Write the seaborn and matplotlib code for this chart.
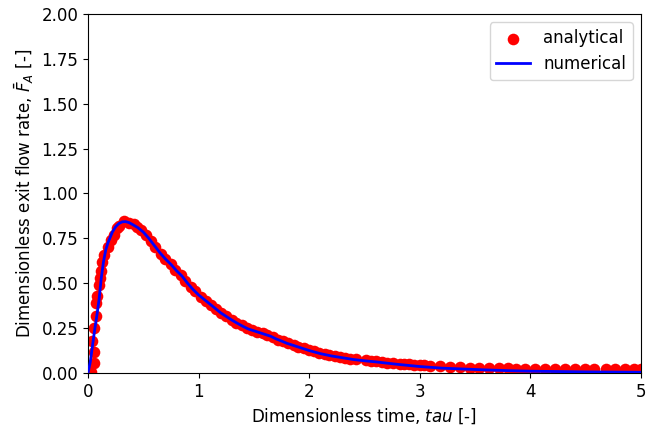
import matplotlib
matplotlib.use("Agg")
import matplotlib.pyplot as plt
import seaborn as sns
import pandas as pd

# Analytical solution samples (tau, F_A)
tau_analytical = [
    0.024, 0.039, 0.054, 0.054, 0.054, 0.070, 0.070, 0.084, 0.100, 0.108,
    0.115, 0.130, 0.145, 0.180, 0.205, 0.235, 0.260, 0.280, 0.325, 0.370,
    0.415, 0.446, 0.48, 0.52, 0.57, 0.61, 0.66, 0.70, 0.75, 0.79,
    0.84, 0.88, 0.93, 0.97, 1.02, 1.07, 1.11, 1.16, 1.20, 1.25,
    1.30, 1.34, 1.39, 1.44, 1.48, 1.53, 1.58, 1.62, 1.67, 1.72,
    1.76, 1.81, 1.86, 1.90, 1.95, 2.00, 2.04, 2.09, 2.14, 2.18,
    2.23, 2.28, 2.32, 2.37, 2.42, 2.51, 2.56, 2.60, 2.66, 2.70,
    2.76, 2.82, 2.86, 2.90, 2.95, 3.00, 3.04, 3.09, 3.18, 3.27,
    3.36, 3.45, 3.54, 3.63, 3.72, 3.80, 3.87, 3.95, 4.04, 4.13,
    4.22, 4.31, 4.40, 4.49, 4.58, 4.68, 4.77, 4.86, 4.94, 5.00,
]
F_analytical = [
    0.007, 0.180, 0.054, 0.119, 0.250, 0.320, 0.390, 0.430, 0.490, 0.530,
    0.570, 0.620, 0.660, 0.700, 0.740, 0.770, 0.805, 0.820, 0.848, 0.834,
    0.830, 0.815, 0.795, 0.770, 0.735, 0.700, 0.665, 0.635, 0.605, 0.575,
    0.545, 0.515, 0.480, 0.455, 0.425, 0.400, 0.380, 0.355, 0.335, 0.315,
    0.295, 0.280, 0.265, 0.250, 0.240, 0.230, 0.220, 0.212, 0.200, 0.186,
    0.176, 0.165, 0.155, 0.146, 0.137, 0.128, 0.120, 0.112, 0.105, 0.100,
    0.094, 0.088, 0.084, 0.080, 0.076, 0.070, 0.066, 0.064, 0.060, 0.058,
    0.055, 0.052, 0.050, 0.048, 0.046, 0.044, 0.042, 0.040, 0.037, 0.034,
    0.032, 0.030, 0.028, 0.027, 0.026, 0.025, 0.024, 0.023, 0.022, 0.021,
    0.021, 0.020, 0.020, 0.020, 0.020, 0.020, 0.020, 0.020, 0.021, 0.024,
]

# Numerical solution (tau, F_A)
tau_numerical = [
    0.00, 0.02, 0.04, 0.06, 0.08, 0.10, 0.12, 0.14, 0.16, 0.18,
    0.20, 0.22, 0.25, 0.28, 0.31, 0.34, 0.37, 0.40, 0.45, 0.50,
    0.55, 0.60, 0.65, 0.70, 0.75, 0.80, 0.85, 0.90, 0.95, 1.00,
    1.05, 1.10, 1.15, 1.20, 1.25, 1.30, 1.35, 1.40, 1.45, 1.50,
    1.55, 1.60, 1.65, 1.70, 1.75, 1.80, 1.85, 1.90, 1.95, 2.00,
    2.10, 2.20, 2.30, 2.40, 2.50, 2.60, 2.70, 2.80, 2.90, 3.00,
    3.20, 3.40, 3.60, 3.80, 4.00, 4.25, 4.50, 4.75, 5.00,
]
F_numerical = [
    0.000, 0.060, 0.150, 0.240, 0.320, 0.410, 0.530, 0.620, 0.685, 0.725,
    0.755, 0.785, 0.815, 0.833, 0.842, 0.843, 0.838, 0.828, 0.810, 0.785,
    0.750, 0.710, 0.670, 0.635, 0.605, 0.570, 0.540, 0.500, 0.465, 0.435,
    0.410, 0.385, 0.360, 0.335, 0.315, 0.295, 0.277, 0.260, 0.245, 0.235,
    0.225, 0.215, 0.205, 0.190, 0.178, 0.165, 0.155, 0.145, 0.135, 0.125,
    0.108, 0.095, 0.085, 0.075, 0.068, 0.062, 0.055, 0.048, 0.042, 0.036,
    0.027, 0.022, 0.017, 0.013, 0.010, 0.008, 0.006, 0.005, 0.004,
]

df_a = pd.DataFrame({"tau": tau_analytical, "F": F_analytical})
df_n = pd.DataFrame({"tau": tau_numerical, "F": F_numerical})

plt.rcParams["font.size"] = 12

fig = plt.figure(figsize=(6.52, 4.30), dpi=100)
ax = fig.add_axes([0.135, 0.1326, 0.848, 0.8349])

sns.scatterplot(data=df_a, x="tau", y="F", color="red", s=70,
                linewidth=0, label="analytical", ax=ax, zorder=2)
sns.lineplot(data=df_n, x="tau", y="F", color="blue", linewidth=2.0,
             label="numerical", ax=ax, zorder=3, sort=False)

ax.set_xlim(0, 5)
ax.set_ylim(0, 2.0)
ax.set_yticks([0.0, 0.25, 0.5, 0.75, 1.0, 1.25, 1.5, 1.75, 2.0])
ax.set_yticklabels(["0.00", "0.25", "0.50", "0.75", "1.00", "1.25",
                    "1.50", "1.75", "2.00"])
ax.set_xticks([0, 1, 2, 3, 4, 5])
ax.tick_params(labelsize=12)
ax.set_xlabel("Dimensionless time, $tau$ [-]", fontsize=12)
ax.set_ylabel(r"Dimensionless exit flow rate, $\bar{F}_A$ [-]", fontsize=12)
ax.legend(loc="upper right", fontsize=12)

fig.savefig("out.png", dpi=100)
